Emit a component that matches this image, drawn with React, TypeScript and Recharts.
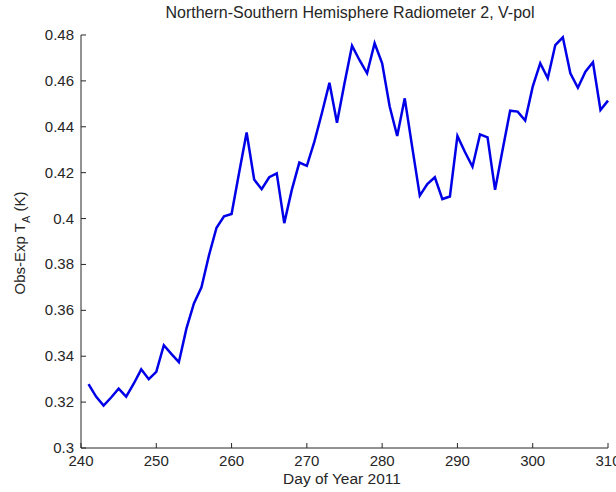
import { LineChart, Line, XAxis, YAxis } from 'recharts';

const days = [
  241, 242, 243, 244, 245, 246, 247, 248, 249, 250,
  251, 252, 253, 254, 255, 256, 257, 258, 259, 260,
  261, 262, 263, 264, 265, 266, 267, 268, 269, 270,
  271, 272, 273, 274, 275, 276, 277, 278, 279, 280,
  281, 282, 283, 284, 285, 286, 287, 288, 289, 290,
  291, 292, 293, 294, 295, 296, 297, 298, 299, 300,
  301, 302, 303, 304, 305, 306, 307, 308, 309, 310,
];

const obsExp = [
  0.3278, 0.3224, 0.3185, 0.322, 0.3259, 0.3224, 0.328, 0.3343, 0.33, 0.3332,
  0.3448, 0.341, 0.3374, 0.352, 0.363, 0.37, 0.384, 0.396, 0.401, 0.402,
  0.42, 0.4375, 0.417, 0.4128, 0.418, 0.4197, 0.398, 0.4125, 0.4244, 0.423,
  0.4335, 0.446, 0.4592, 0.4418, 0.459, 0.4753, 0.469, 0.4633, 0.4764, 0.4677,
  0.4488, 0.436, 0.4524, 0.431, 0.41, 0.415, 0.418, 0.4085, 0.4096, 0.436,
  0.429, 0.4226, 0.4367, 0.4354, 0.4125, 0.43, 0.447, 0.4466, 0.4427, 0.4575,
  0.4677, 0.4611, 0.4756, 0.479, 0.4633, 0.457, 0.464, 0.4681, 0.4473, 0.4514,
];

const xTicks = [240, 250, 260, 270, 280, 290, 300, 310];
const yTicks = [0.3, 0.32, 0.34, 0.36, 0.38, 0.4, 0.42, 0.44, 0.46, 0.48];

const data = days.map((d, i) => ({ day: d, v: obsExp[i] }));

const FONT = '"Liberation Sans", Arial, sans-serif';
const INK = '#262626';

// matlab-style ticks point into the plot
function XTick(props: any) {
  const { x, y, payload } = props;
  return (
    <g>
      <line x1={x} y1={y} x2={x} y2={y - 5} stroke={INK} strokeWidth={1} />
      <text x={x} y={y + 18} textAnchor="middle" fontSize={15} fontFamily={FONT} fill={INK}>
        {payload.value}
      </text>
    </g>
  );
}

function YTick(props: any) {
  const { x, y, payload } = props;
  return (
    <g>
      <line x1={x} y1={y} x2={x + 5} y2={y} stroke={INK} strokeWidth={1} />
      <text x={x - 7} y={y + 5} textAnchor="end" fontSize={15} fontFamily={FONT} fill={INK}>
        {String(parseFloat(payload.value.toFixed(2)))}
      </text>
    </g>
  );
}

export default function App() {
  return (
    <div style={{ position: 'fixed', left: 0, top: 0, width: 616, height: 492, background: '#fff' }}>
      <LineChart width={616} height={492} data={data} margin={{ top: 35, right: 8, left: 0, bottom: 0 }}>
        <XAxis
          dataKey="day"
          type="number"
          domain={[240, 310]}
          ticks={xTicks}
          height={44}
          tickSize={0}
          tickMargin={0}
          tickLine={false}
          tick={<XTick />}
          stroke={INK}
          interval={0}
        />
        <YAxis
          type="number"
          domain={[0.3, 0.48]}
          ticks={yTicks}
          width={81}
          tickSize={0}
          tickMargin={0}
          tickLine={false}
          tick={<YTick />}
          stroke={INK}
          interval={0}
        />
        <Line
          type="linear"
          dataKey="v"
          stroke="#0000e8"
          strokeWidth={2.5}
          dot={false}
          isAnimationActive={false}
        />
        <text x={350} y={18} textAnchor="middle" fontSize={16} fontFamily={FONT} fill={INK}>
          Northern-Southern Hemisphere Radiometer 2, V-pol
        </text>
        <text x={342} y={484} textAnchor="middle" fontSize={15.5} fontFamily={FONT} fill={INK}>
          Day of Year 2011
        </text>
        <text
          x={0}
          y={0}
          transform="translate(25,243) rotate(-90)"
          textAnchor="middle"
          fontSize={15}
          fontFamily={FONT}
          fill={INK}
        >
          Obs-Exp T<tspan fontSize={11} dy={5}>A</tspan>
          <tspan dy={-5}> (K)</tspan>
        </text>
      </LineChart>
    </div>
  );
}
